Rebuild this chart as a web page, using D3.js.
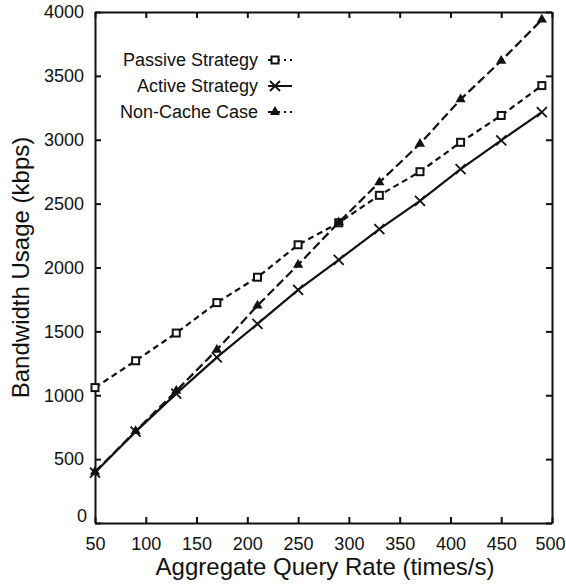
<!DOCTYPE html>
<html>
<head>
<meta charset="utf-8">
<script src="https://cdn.jsdelivr.net/npm/d3@7"></script>
<style>
  body { margin: 0; background: #fff; }
  text { font-family: "Liberation Sans", Arial, sans-serif; fill: #111; }
</style>
</head>
<body>
<div id="chart-area"></div>
<script>
// data
const queryRates = [50, 90, 130, 170, 210, 250, 290, 330, 370, 410, 450, 490];
const passive = [1060, 1270, 1487, 1725, 1924, 2178, 2350, 2565, 2750, 2980, 3190, 3424];
const active = [395, 715, 1013, 1296, 1558, 1825, 2060, 2300, 2522, 2770, 2995, 3217];
const nonCache = [400, 720, 1034, 1356, 1702, 2021, 2353, 2667, 2968, 3316, 3618, 3940];
const xTicks = [50, 100, 150, 200, 250, 300, 350, 400, 450, 500];
const yTicks = [0, 500, 1000, 1500, 2000, 2500, 3000, 3500, 4000];
const seriesNames = ['Passive Strategy', 'Active Strategy', 'Non-Cache Case'];

const margin = {left: 95, right: 14, top: 12, bottom: 64};
const width = 566 - margin.left - margin.right,
    height = 587 - margin.top - margin.bottom;

const svg = d3.select('#chart-area')
    .append('svg')
    .attr('width', 566)
    .attr('height', 587);

const g = svg.append('g')
    .attr('transform', 'translate(' + margin.left + ', ' + margin.top + ')');

const xScale = d3.scaleLinear().domain([50, 500]).range([0, width]);
const yScale = d3.scaleLinear().domain([0, 4000]).range([height, 0]);

// frame + inward ticks on all sides
const tick = 6;
g.append('g')
    .attr('transform', 'translate(0, ' + height + ')')
    .call(d3.axisBottom(xScale).tickValues(xTicks).tickFormat(d3.format('d'))
        .tickSizeInner(-tick).tickSizeOuter(0).tickPadding(10))
    .call(a => a.selectAll('text').attr('class', 'xt'));
g.append('g')
    .call(d3.axisTop(xScale).tickValues(xTicks).tickSizeInner(-tick).tickSizeOuter(0).tickFormat(''));
g.append('g')
    .call(d3.axisLeft(yScale).tickValues(yTicks).tickFormat(d3.format('d'))
        .tickSizeInner(-tick).tickSizeOuter(0).tickPadding(11));
g.append('g')
    .attr('transform', 'translate(' + width + ', 0)')
    .call(d3.axisRight(yScale).tickValues(yTicks).tickSizeInner(-tick).tickSizeOuter(0).tickFormat(''));

g.selectAll('.domain').attr('stroke', '#111').attr('stroke-width', 2);
g.selectAll('.tick line').attr('stroke', '#111').attr('stroke-width', 2);
g.selectAll('.tick text')
    .attr('font-size', '18px')
    .attr('font-family', '"Liberation Sans", Arial, sans-serif')
    .attr('fill', '#111');

// the 0 on the y axis sits up-left of the corner, like the original
g.selectAll('.tick text').filter(function(d) { return d === 0 && !this.classList.contains('xt'); })
    .attr('dy', '-0.1em').attr('x', -8);
g.selectAll('.xt').attr('dy', '0.95em');
g.selectAll('.xt').filter(d => d === 500).attr('x', -2);

// axis titles
g.append('text')
    .text('Aggregate Query Rate (times/s)')
    .attr('x', 230)
    .attr('y', height + 52)
    .attr('text-anchor', 'middle')
    .attr('font-size', '24px');

g.append('text')
    .text('Bandwidth Usage (kbps)')
    .attr('transform', 'rotate(-90)')
    .attr('x', -height / 2)
    .attr('y', -66)
    .attr('text-anchor', 'middle')
    .attr('font-size', '24px');

const series = [
    {name: seriesNames[0], values: passive, dash: '6,4', marker: 'square'},
    {name: seriesNames[1], values: active, dash: null, marker: 'cross'},
    {name: seriesNames[2], values: nonCache, dash: '9,4', marker: 'triangle'}
];

const line = d3.line()
    .x((d, i) => xScale(queryRates[i]))
    .y(d => yScale(d));

const drawMarker = (sel, type) => {
    if (type === 'square') {
        sel.append('rect')
            .attr('x', -3.5).attr('y', -3.5).attr('width', 7).attr('height', 7)
            .attr('fill', '#fff').attr('stroke', '#111').attr('stroke-width', 2);
    } else if (type === 'cross') {
        sel.append('path')
            .attr('d', 'M-5,-5L5,5M-5,5L5,-5')
            .attr('stroke', '#111').attr('stroke-width', 1.8);
    } else {
        sel.append('path')
            .attr('d', d3.symbol(d3.symbolTriangle, 45)())
            .attr('fill', '#111');
    }
};

series.forEach(s => {
    g.append('path')
        .datum(s.values)
        .attr('d', line)
        .attr('fill', 'none')
        .attr('stroke', '#111')
        .attr('stroke-width', 2.2)
        .attr('stroke-dasharray', s.dash);

    g.selectAll('.m-' + s.marker)
        .data(s.values)
        .enter()
        .append('g')
        .attr('class', 'm-' + s.marker)
        .attr('transform', (d, i) => 'translate(' + xScale(queryRates[i]) + ',' + yScale(d) + ')')
        .each(function() { drawMarker(d3.select(this), s.marker); });
});

// legend
const legend = svg.append('g');
series.forEach((s, i) => {
    const y = 60 + i * 26;
    legend.append('text')
        .text(s.name)
        .attr('x', 258)
        .attr('y', y)
        .attr('dy', '0.35em')
        .attr('text-anchor', 'end')
        .attr('font-size', '18px');
    legend.append('line')
        .attr('x1', 268).attr('x2', 292)
        .attr('y1', y).attr('y2', y)
        .attr('stroke', '#111')
        .attr('stroke-width', 2)
        .attr('stroke-dasharray', s.dash ? '12,4,2,4' : null);
    const m = legend.append('g').attr('transform', 'translate(275,' + y + ')');
    drawMarker(m, s.marker);
});
</script>
</body>
</html>
